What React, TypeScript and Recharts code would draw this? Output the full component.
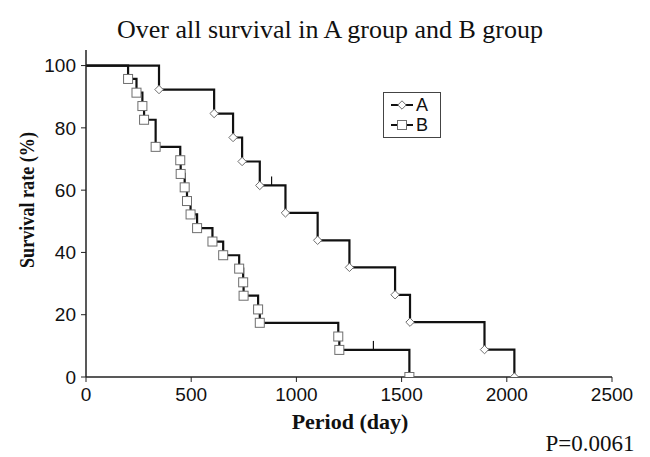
import React from "react";
import { ComposedChart, Line, XAxis, YAxis, Legend } from "recharts";

// Kaplan-Meier steps (time in days, survival in %)
const aTimes = [0, 347, 609, 699, 742, 826, 882, 948, 1101, 1252, 1469, 1540, 1894, 2036];
const aRates = [100, 92.3, 84.6, 76.9, 69.2, 61.5, 61.5, 52.7, 43.9, 35.2, 26.4, 17.6, 8.8, 0];
const aMarks = ["start", "event", "event", "event", "event", "event", "censor", "event", "event", "event", "event", "event", "event", "event"];

const bTimes = [0, 200, 240, 268, 276, 331, 448, 450, 469, 480, 497, 528, 601, 652, 728, 747, 749, 818, 826, 1199, 1204, 1366, 1537];
const bRates = [100, 95.7, 91.3, 87.0, 82.6, 73.9, 69.6, 65.2, 60.9, 56.5, 52.2, 47.8, 43.5, 39.1, 34.8, 30.4, 26.1, 21.7, 17.4, 13.0, 8.7, 8.7, 0];
const bMarks = ["start", "event", "event", "event", "event", "event", "event", "event", "event", "event", "event", "event", "event", "event", "event", "event", "event", "event", "event", "event", "event", "censor", "event"];

const xTicks = [0, 500, 1000, 1500, 2000, 2500];
const yTicks = [0, 20, 40, 60, 80, 100];
const seriesNames = ["A", "B"];

const toRows = (times: number[], rates: number[], marks: string[]) =>
  times.map((t, i) => ({ t, s: rates[i], mark: marks[i] }));

const aData = toRows(aTimes, aRates, aMarks);
const bData = toRows(bTimes, bRates, bMarks);

const LINE = "#111";
const MARKER = "#6e6e6e";

function Marker({ shape, x, y }: { shape: string; x: number; y: number }) {
  if (shape === "diamond") {
    const r = 4.2;
    return (
      <polygon
        points={`${x},${y - r} ${x + r},${y} ${x},${y + r} ${x - r},${y}`}
        fill="#fff"
        stroke={MARKER}
        strokeWidth={1}
      />
    );
  }
  return <rect x={x - 4.5} y={y - 4.5} width={9} height={9} fill="#fff" stroke={MARKER} strokeWidth={1} />;
}

const makeDot = (shape: string) => (props: any) => {
  const { cx, cy, payload, index } = props;
  if (payload.mark === "censor") {
    return <line key={`c-${index}`} x1={cx} x2={cx} y1={cy} y2={cy - 9} stroke={LINE} strokeWidth={1.2} />;
  }
  if (payload.mark !== "event") return <g key={`n-${index}`} />;
  return (
    <g key={`m-${index}`}>
      <Marker shape={shape} x={cx} y={cy} />
    </g>
  );
};

function LegendBox() {
  const shapes = ["diamond", "square"];
  return (
    <div
      style={{
        border: "1.5px solid #444",
        width: 58,
        padding: "2px 0 2px 6px",
        boxSizing: "border-box",
        fontFamily: "'Liberation Sans', Arial, sans-serif",
        fontSize: 18,
        lineHeight: "20px",
        color: "#111",
        background: "#fff",
      }}
    >
      {seriesNames.map((n, i) => (
        <div key={n} style={{ display: "flex", alignItems: "center" }}>
          <svg width={24} height={20}>
            <line x1={1} x2={23} y1={10} y2={10} stroke={LINE} strokeWidth={2} />
            <Marker shape={shapes[i]} x={12} y={10} />
          </svg>
          <span style={{ marginLeft: 2 }}>{n}</span>
        </div>
      ))}
    </div>
  );
}

const tickStyle = { fontFamily: "'Liberation Sans', Arial, sans-serif", fontSize: 19, fill: "#111" };
const serif = "'Liberation Serif', 'Times New Roman', serif";

export default function App() {
  return (
    <div style={{ position: "absolute", left: 0, top: 0, background: "#fff" }}>
      <ComposedChart width={650} height={457} margin={{ top: 50, right: 38, bottom: 50, left: 26 }}>
        <XAxis
          type="number"
          dataKey="t"
          domain={[0, 2500]}
          ticks={xTicks}
          allowDataOverflow
          height={30}
          tick={tickStyle}
          tickSize={5}
          tickMargin={6}
          axisLine={{ stroke: "#222", strokeWidth: 1.5 }}
          tickLine={{ stroke: "#222" }}
        />
        <YAxis
          type="number"
          domain={[0, 105]}
          ticks={yTicks}
          allowDataOverflow
          width={60}
          tick={tickStyle}
          tickSize={5}
          tickMargin={5}
          axisLine={{ stroke: "#222", strokeWidth: 1.5 }}
          tickLine={{ stroke: "#222" }}
        />
        <Legend
          layout="horizontal"
          verticalAlign="middle"
          align="center"
          content={() => <LegendBox />}
          wrapperStyle={{ position: "absolute", left: 383, top: 92, width: 60 }}
        />
        <Line
          data={aData}
          dataKey="s"
          name="A"
          type="stepAfter"
          stroke={LINE}
          strokeWidth={2.2}
          dot={makeDot("diamond")}
          activeDot={false}
          isAnimationActive={false}
        />
        <Line
          data={bData}
          dataKey="s"
          name="B"
          type="stepAfter"
          stroke={LINE}
          strokeWidth={2.2}
          dot={makeDot("square")}
          activeDot={false}
          isAnimationActive={false}
        />
        <text x={330} y={38} textAnchor="middle" fontFamily={serif} fontSize={26} fill="#111">
          Over all survival in A group and B group
        </text>
        <text
          x={34}
          y={200}
          textAnchor="middle"
          fontFamily={serif}
          fontSize={20}
          fontWeight="bold"
          fill="#111"
          textLength={136}
          lengthAdjust="spacingAndGlyphs"
          transform="rotate(-90 34 200)"
        >
          Survival rate (%)
        </text>
        <text x={350} y={429} textAnchor="middle" fontFamily={serif} fontSize={22} fontWeight="bold" fill="#111">
          Period (day)
        </text>
        <text x={590} y={451} textAnchor="middle" fontFamily={serif} fontSize={23} fill="#111">
          P=0.0061
        </text>
      </ComposedChart>
    </div>
  );
}
